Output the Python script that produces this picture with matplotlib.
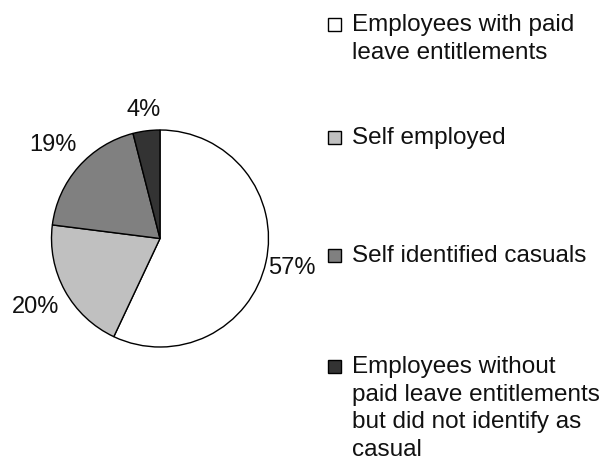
import numpy as np
import matplotlib.pyplot as plt
from matplotlib.patches import Rectangle

plt.rcParams['font.family'] = ['Liberation Sans', 'DejaVu Sans']

# shares of workers by leave status
shares = [57, 20, 19, 4]
pct_labels = ['57%', '20%', '19%', '4%']
categories = ['Employees with paid\nleave entitlements',
              'Self employed',
              'Self identified casuals',
              'Employees without\npaid leave entitlements\nbut did not identify as\ncasual']
fills = ['#ffffff', '#c0c0c0', '#808080', '#333333']

W, H = 609, 465
fig = plt.figure(figsize=(W / 100, H / 100), dpi=100)

# pie placed in pixel terms: centre (160, 238.5), radius 108.5
cx, cy, r = 160, 238.5, 108.5
ax = fig.add_axes([(cx - r) / W, (H - cy - r) / H, 2 * r / W, 2 * r / H])
wedges, texts = ax.pie(shares, colors=fills, startangle=90, counterclock=False,
                       labels=pct_labels,
                       wedgeprops=dict(edgecolor='black', linewidth=1.0),
                       textprops=dict(fontsize=17, color='#111111'))
dists = [1.25, 1.31, 1.31, 1.19]
for w, t, d in zip(wedges, texts, dists):
    ang = np.deg2rad((w.theta1 + w.theta2) / 2)
    t.set_position((d * np.cos(ang), d * np.sin(ang)))
    t.set_ha('center')
    t.set_va('center')
ax.set_xlim(-1, 1)
ax.set_ylim(-1, 1)
ax.set_aspect('equal')

# legend drawn by hand on a pixel-coordinate overlay
lg = fig.add_axes([0, 0, 1, 1])
lg.set_xlim(0, W)
lg.set_ylim(H, 0)
lg.axis('off')
rows = [24.5, 137, 255, 366]
for y, lab, col in zip(rows, categories, fills):
    lg.add_patch(Rectangle((328, y - 6.5), 13, 13, facecolor=col,
                           edgecolor='black', linewidth=1.0))
    lg.text(352, y - 10, lab, fontsize=17.5, va='top', ha='left',
            linespacing=1.33, color='#111111')

fig.savefig('out.png', dpi=100)
